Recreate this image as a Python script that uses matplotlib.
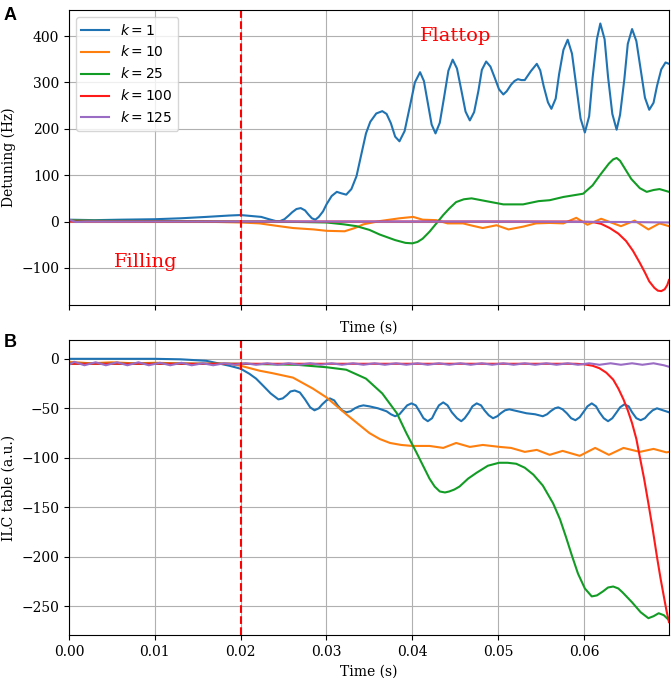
import matplotlib
matplotlib.use("Agg")
import matplotlib.pyplot as plt

plt.rcParams['font.family'] = 'serif'
plt.rcParams['font.serif'] = ['DejaVu Serif']
plt.rcParams['mathtext.fontset'] = 'dejavusans'
plt.rcParams['font.size'] = 10

# colours of the k curves
colors = ['#1f73b2', '#ff7f0e', '#139c25', '#ff1a1a', '#9a6cc4']
labels = [r'$k = 1$', r'$k = 10$', r'$k = 25$', r'$k = 100$', r'$k = 125$']

# ---- panel A : detuning (Hz) ----
tA_k1 = [0.0, 0.003, 0.006, 0.010, 0.013, 0.016, 0.0187, 0.0200, 0.0212, 0.0224, 0.0233, 0.0241,
         0.0246, 0.0251, 0.0256, 0.0260, 0.0265, 0.0270, 0.0275, 0.0279, 0.0283, 0.0287, 0.0291,
         0.0296, 0.0300, 0.0306, 0.0312, 0.0317, 0.0323, 0.0329, 0.0335, 0.0340, 0.0346, 0.0351,
         0.0358, 0.0365, 0.0370, 0.0375, 0.0380, 0.0385, 0.0391, 0.0397, 0.0403, 0.0409, 0.04135,
         0.0418, 0.04225, 0.0427, 0.0432, 0.0437, 0.0442, 0.0447, 0.0452, 0.0457, 0.0462, 0.0467,
         0.0472, 0.0477, 0.0481, 0.0486, 0.0491, 0.0496, 0.0501, 0.0506, 0.0510, 0.0515, 0.0519,
         0.0523, 0.0527, 0.0531, 0.0538, 0.0545, 0.0549, 0.0553, 0.0558, 0.0562, 0.0567, 0.0571,
         0.0576, 0.0581, 0.0586, 0.0591, 0.0596, 0.0601, 0.0606, 0.0610, 0.0615, 0.0619, 0.0624,
         0.0628, 0.0633, 0.0638, 0.0642, 0.0647, 0.0651, 0.0656, 0.0661, 0.0666, 0.0671, 0.0676,
         0.0681, 0.0685, 0.0690, 0.0695, 0.0699]
yA_k1 = [4, 3, 4, 5, 7, 10, 13, 14, 12, 10, 5, 1,
         1, 5, 13, 20, 27, 29, 24, 15, 7, 4, 10,
         22, 37, 55, 64, 61, 58, 70, 98, 140, 190, 215,
         233, 238, 232, 212, 183, 173, 195, 247, 300, 322, 303,
         256, 209, 190, 213, 268, 325, 349, 330, 284, 237, 218,
         236, 282, 327, 345, 334, 310, 285, 274, 281, 295, 303,
         307, 305, 305, 324, 340, 326, 292, 257, 243, 265, 318,
         370, 392, 362, 292, 222, 192, 227, 310, 393, 427, 393,
         312, 232, 198, 230, 307, 383, 415, 389, 328, 267, 241,
         256, 292, 328, 343, 340]

tA_k10 = [0.0, 0.005, 0.010, 0.015, 0.020, 0.0222, 0.0241, 0.0261, 0.0285, 0.0300, 0.0321, 0.0333,
          0.0343, 0.0362, 0.0385, 0.0401, 0.0412, 0.0428, 0.0441, 0.0459, 0.0470, 0.0482, 0.0498,
          0.0512, 0.0529, 0.0544, 0.0560, 0.0576, 0.0591, 0.0604, 0.0620, 0.0630, 0.0643, 0.0659,
          0.0675, 0.0688, 0.0699]
yA_k10 = [2, 1, 0, 0, -2, -4, -9, -14, -17, -20, -21, -14,
          -6, 1, 7, 10, 4, 3, -4, -4, -9, -14, -8,
          -17, -11, -4, -3, -4, 8, -7, 6, -1, -10, 2,
          -17, -4, -10]

tA_k25 = [0.0, 0.010, 0.020, 0.024, 0.027, 0.030, 0.0320, 0.0335, 0.0350, 0.0362, 0.0380, 0.0392,
          0.0400, 0.0406, 0.0412, 0.0420, 0.0428, 0.0436, 0.0443, 0.0451, 0.0460, 0.0469, 0.0486,
          0.0506, 0.0529, 0.0547, 0.0560, 0.0576, 0.0599, 0.0610, 0.0619, 0.0629, 0.0634, 0.0638,
          0.0642, 0.0648, 0.0655, 0.0665, 0.0673, 0.0681, 0.0688, 0.0699]
yA_k25 = [2, 1, 0, 0, -1, -2, -6, -10, -18, -28, -40, -46,
          -47, -44, -37, -22, -4, 14, 28, 42, 48, 50, 44,
          37, 37, 44, 46, 53, 60, 78, 101, 125, 134, 137,
          131, 113, 92, 72, 64, 68, 70, 64]

tA_k100 = [0.0, 0.020, 0.040, 0.059, 0.0610, 0.0620, 0.0630, 0.0640, 0.0649, 0.0657, 0.0665, 0.0671,
           0.0676, 0.0682, 0.0686, 0.0690, 0.0694, 0.0697, 0.0699]
yA_k100 = [0, 0, 0, 0, -1, -5, -14, -26, -42, -63, -89, -110,
           -129, -143, -149, -150, -146, -137, -126]

tA_k125 = [0.0, 0.0008, 0.002, 0.010, 0.030, 0.050, 0.065, 0.0699]
yA_k125 = [4, -1, 0, 0, 0, 0, -1, -2]

# ---- panel B : ILC table (a.u.) ----
tB_k1 = [0.0, 0.005, 0.010, 0.013, 0.016, 0.0187, 0.0200, 0.0210, 0.0218, 0.0226, 0.0235, 0.0244,
         0.0249, 0.0254, 0.0258, 0.0263, 0.0269, 0.0275, 0.0281, 0.0286, 0.0291, 0.0295, 0.0300,
         0.0304, 0.0309, 0.0313, 0.0318, 0.0323, 0.0328, 0.0333, 0.0338, 0.0343, 0.0350, 0.0360,
         0.0370, 0.0375, 0.0380, 0.0385, 0.0390, 0.0394, 0.0399, 0.0404, 0.0409, 0.0413, 0.0418,
         0.0423, 0.0427, 0.0431, 0.0436, 0.0441, 0.0446, 0.0452, 0.0457, 0.0461, 0.0466, 0.0470,
         0.0475, 0.0480, 0.0484, 0.0489, 0.0494, 0.0499, 0.0503, 0.0508, 0.0513, 0.0523, 0.0533,
         0.0543, 0.0552, 0.0557, 0.0561, 0.0566, 0.0570, 0.0575, 0.0580, 0.0585, 0.0590, 0.0595,
         0.0600, 0.0604, 0.0609, 0.0614, 0.0618, 0.0623, 0.0628, 0.0633, 0.0638, 0.0642, 0.0647,
         0.0652, 0.0656, 0.0661, 0.0666, 0.0671, 0.0675, 0.0680, 0.0685, 0.0692, 0.0699]
yB_k1 = [0, 0, 0, -0.5, -2, -7, -10, -15, -20, -27, -35, -41,
         -40, -36.5, -33, -32, -34, -41, -49, -52, -50, -46, -42,
         -40, -42, -47, -52, -54, -53, -50, -48, -47, -48, -50,
         -53, -56, -58, -56, -51, -47, -45, -47, -54, -60, -63,
         -60, -53, -47, -44, -47, -54, -60, -63, -60, -54, -48,
         -45, -47, -52, -57, -60, -58, -55, -52, -51, -53, -55,
         -56, -58, -56, -53, -50, -49, -51, -55, -60, -62, -59,
         -53, -48, -45, -48, -54, -60, -63, -60, -54, -49, -46,
         -48, -54, -60, -62, -60, -56, -52, -50, -52, -54]

tB_k10 = [0.0, 0.0025, 0.005, 0.0075, 0.010, 0.015, 0.0187, 0.0200, 0.0222, 0.0237, 0.0261, 0.0284,
          0.0300, 0.0323, 0.0350, 0.0362, 0.0374, 0.0387, 0.0400, 0.0420, 0.0436, 0.0451, 0.0467,
          0.0482, 0.0502, 0.0515, 0.0531, 0.0545, 0.0560, 0.0575, 0.0595, 0.0613, 0.0629, 0.0646,
          0.0665, 0.0681, 0.0696, 0.0699]
yB_k10 = [-3, -4.5, -3.5, -4.5, -4, -5, -5, -7, -12, -14.5, -19, -30,
          -39, -56, -75, -81, -85, -87, -88, -88, -90, -85, -89,
          -87, -89, -90, -94, -92, -97, -93, -98, -90, -97, -90,
          -94, -91, -94.5, -94]

tB_k25 = [0.0, 0.010, 0.020, 0.0265, 0.0300, 0.0323, 0.0346, 0.0365, 0.0382, 0.0393, 0.0405, 0.0420,
          0.0426, 0.0432, 0.0438, 0.0443, 0.0449, 0.0455, 0.0465, 0.0475, 0.0488, 0.0501, 0.0511,
          0.0521, 0.0531, 0.0541, 0.0552, 0.0564, 0.0572, 0.0579, 0.0586, 0.0593, 0.0601, 0.0609,
          0.0615, 0.0622, 0.0628, 0.0634, 0.0640, 0.0645, 0.0656, 0.0666, 0.0675, 0.0681, 0.0687,
          0.0693, 0.0699]
yB_k25 = [-5, -5, -5, -6, -8.5, -11, -20, -35, -55, -75, -95, -121,
          -129, -134, -135, -134, -132, -129, -121, -115, -108, -105, -105,
          -106, -110, -117, -128, -146, -162, -180, -199, -217, -232, -240,
          -239, -235, -231, -230, -232, -236, -246, -256, -262, -260, -257,
          -259, -264]

tB_k100 = [0.0, 0.020, 0.040, 0.0590, 0.0600, 0.0610, 0.0618, 0.0626, 0.0634, 0.0640, 0.0646, 0.0651,
           0.0656, 0.0661, 0.0665, 0.0670, 0.0675, 0.0680, 0.0685, 0.0689, 0.0693, 0.0696, 0.0699]
yB_k100 = [-5, -5, -5, -5, -5.5, -7, -9.5, -14, -21, -30, -41, -52,
           -65, -81, -99, -121, -146, -172, -200, -221, -240, -254, -266]

tB_k125 = [0.0, 0.0006, 0.0018, 0.0031, 0.0043, 0.0056, 0.0068, 0.0081, 0.0093, 0.0106, 0.0118,
           0.0131, 0.0143, 0.0156, 0.0168, 0.0181, 0.0193, 0.0206, 0.0218, 0.0231, 0.0243, 0.0256,
           0.0268, 0.0281, 0.0293, 0.0306, 0.0318, 0.0331, 0.0343, 0.0356, 0.0368, 0.0381, 0.0393,
           0.0406, 0.0418, 0.0431, 0.0443, 0.0456, 0.0468, 0.0481, 0.0493, 0.0506, 0.0518, 0.0531,
           0.0543, 0.0556, 0.0568, 0.0581, 0.0593, 0.0606, 0.0618, 0.0631, 0.0643, 0.0656, 0.0668,
           0.0681, 0.0693, 0.0699]
yB_k125 = [-6, -3, -6.5, -3.5, -6.5, -3.5, -6.5, -3.5, -6.5, -4, -6.5,
           -4, -6.5, -4.5, -6.5, -4.5, -6, -4.5, -6, -4.5, -6, -4.5,
           -6, -4.5, -6, -4.5, -6, -4.5, -6, -4.5, -6, -4.5, -6,
           -4.5, -6, -4.5, -6, -4.5, -6, -4.5, -6, -4.5, -6, -4.5,
           -6, -4.5, -6, -4.5, -6, -4.5, -6, -4.5, -6, -4.5, -6,
           -4.5, -6.5, -8]

seriesA = [(tA_k1, yA_k1), (tA_k10, yA_k10), (tA_k25, yA_k25), (tA_k100, yA_k100), (tA_k125, yA_k125)]
seriesB = [(tB_k1, yB_k1), (tB_k10, yB_k10), (tB_k25, yB_k25), (tB_k100, yB_k100), (tB_k125, yB_k125)]

fig = plt.figure(figsize=(6.71, 6.78), dpi=100)
axA = fig.add_axes([0.1028, 0.5501, 0.8942, 0.4351])
axB = fig.add_axes([0.1028, 0.0634, 0.8942, 0.4351])

for (t, y), c, lab in zip(seriesA, colors, labels):
    axA.plot(t, y, color=c, lw=1.5, label=lab, solid_joinstyle='round')
for (t, y), c in zip(seriesB, colors):
    axB.plot(t, y, color=c, lw=1.5, solid_joinstyle='round')

for ax in (axA, axB):
    ax.axvline(0.02, color='red', ls='--', lw=1.5)
    ax.grid(True)
    ax.set_xlim(0, 0.0699)
    ax.set_xticks([0.0, 0.01, 0.02, 0.03, 0.04, 0.05, 0.06])
    ax.set_xlabel('Time (s)')

axA.set_ylim(-180, 456)
axA.set_yticks([-100, 0, 100, 200, 300, 400])
axA.set_xticklabels([])
axA.set_ylabel('Detuning (Hz)')
axA.legend(loc='upper left', fontsize=10)
axA.text(0.0089, -88, 'Filling', color='red', fontsize=14, ha='center', va='center')
axA.text(0.0451, 401, 'Flattop', color='red', fontsize=14, ha='center', va='center')

axB.set_ylim(-279, 19)
axB.set_yticks([-250, -200, -150, -100, -50, 0])
axB.set_xticklabels(['0.00', '0.01', '0.02', '0.03', '0.04', '0.05', '0.06'])
axB.set_ylabel('ILC table (a.u.)')

fig.text(0.006, 0.99, 'A', fontsize=13, fontweight='bold', family='Liberation Sans', va='top')
fig.text(0.006, 0.507, 'B', fontsize=13, fontweight='bold', family='Liberation Sans', va='top')

fig.savefig('out.png', dpi=100)
